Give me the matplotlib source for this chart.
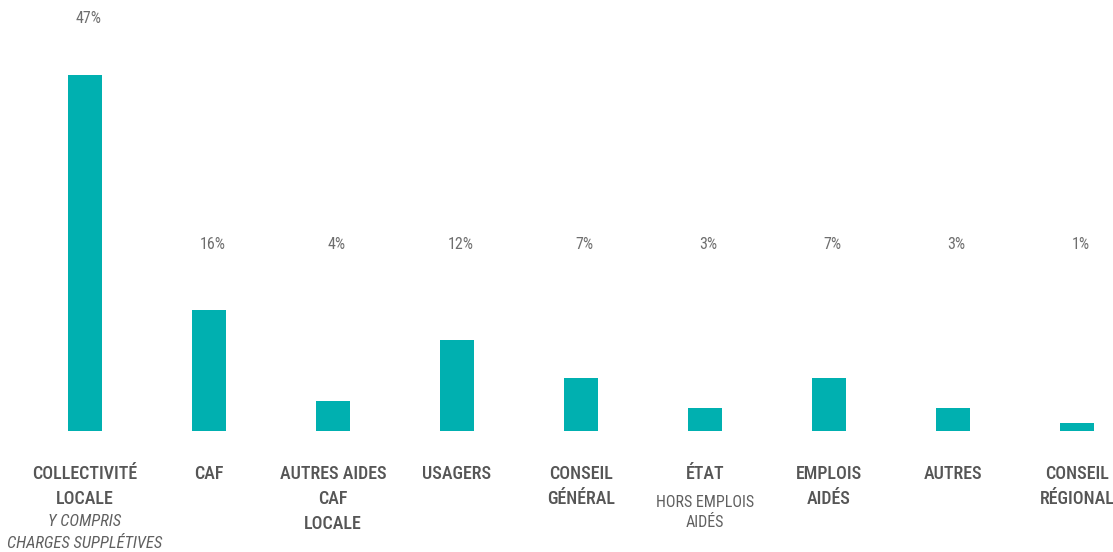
# Répartition des financements - diagramme en barres

import numpy as np
import matplotlib.pyplot as plt

plt.rcParams['font.family'] = ['Roboto Condensed', 'Roboto', 'DejaVu Sans']

# données
categories = ['COLLECTIVITÉ\nLOCALE', 'CAF', 'AUTRES AIDES\nCAF\nLOCALE', 'USAGERS',
              'CONSEIL\nGÉNÉRAL', 'ÉTAT', 'EMPLOIS\nAIDÉS', 'AUTRES', 'CONSEIL\nRÉGIONAL']
sous_titres = ['Y COMPRIS\nCHARGES SUPPLÉTIVES', '', '', '', '', 'HORS EMPLOIS\nAIDÉS', '', '', '']
valeurs = [47, 16, 4, 12, 7, 3, 7, 3, 1]

couleur = '#00b0b0'
W, H = 1113, 552

fig = plt.figure(figsize=(W / 100, H / 100), dpi=100)
ax = fig.add_axes([0, 0, 1, 1])

x = np.arange(len(valeurs))
ax.bar(x, valeurs, width=0.274, color=couleur)

# échelles : barre 0 à 85 px, pas de 124 px, base à 431 px du haut
px_unite = 356 / 47
ax.set_xlim(-85 / 124, (W - 85) / 124)
ax.set_ylim(-(H - 431) / px_unite, 431 / px_unite)
ax.axis('off')

# pourcentages
for i, v in enumerate(valeurs):
    y_lab = max(v + 7.5, 24.6)
    ax.text(i + 0.03, y_lab, f'{v}%', ha='center', va='center',
            fontsize=11.5, color='#6e6e6e')

# libellés
trans = ax.get_xaxis_transform()
for i, (cat, sous) in enumerate(zip(categories, sous_titres)):
    haut = 465
    ax.text(i, 1 - haut / H, cat, transform=trans, ha='center', va='top',
            fontsize=13, color='#565656', fontweight='medium', linespacing=1.5)
    if sous:
        n = cat.count('\n') + 1
        if i == 0:
            y_s, style, esp, taille = haut + 24 * n + 1, 'italic', 1.6, 12
        else:
            y_s, style, esp, taille = haut + 24 * n + 6, 'normal', 1.45, 11.5
        ax.text(i, 1 - y_s / H, sous, transform=trans, ha='center', va='top',
                fontsize=taille, color='#606060', style=style, linespacing=esp)

fig.savefig('out.png', dpi=100)
